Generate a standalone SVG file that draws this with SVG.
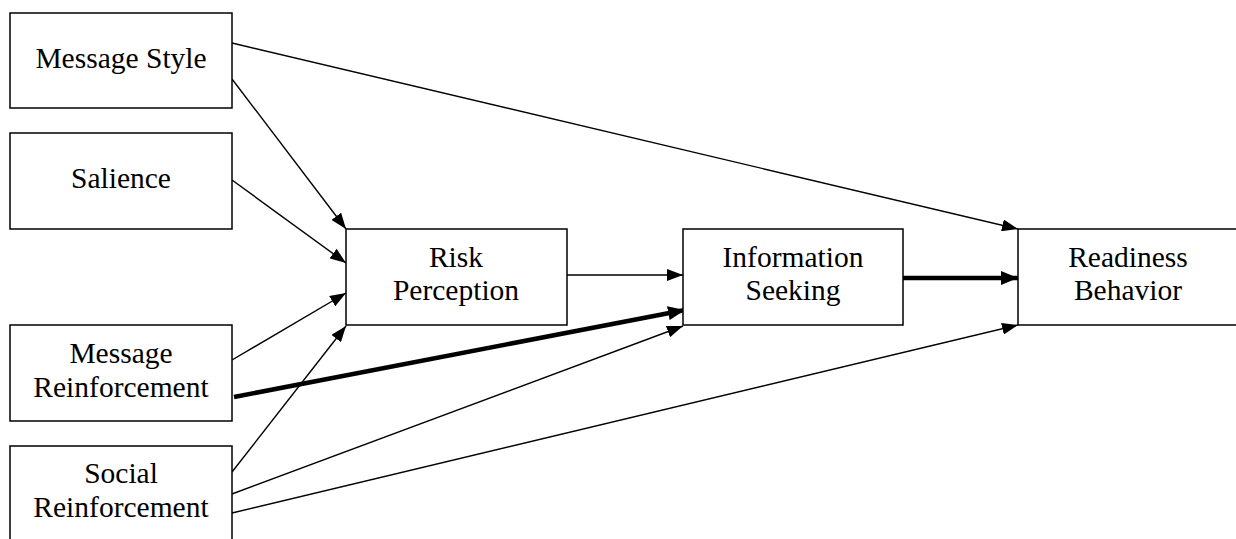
<svg xmlns="http://www.w3.org/2000/svg" width="1236" height="539" viewBox="0 0 1236 539">
  <style>
    .box { fill: #ffffff; stroke: #000000; stroke-width: 1.5; }
    .label { font-family: "Liberation Serif", "Times New Roman", serif; font-size: 29.5px; fill: #000000; text-anchor: middle; }
    .link { stroke: #000000; stroke-width: 1.4; fill: none; marker-end: url(#head); }
    .link-strong { stroke: #000000; stroke-width: 4.5; fill: none; marker-end: url(#head-strong); }
  </style>
  <defs>
    <marker id="head" viewBox="0 0 16 12" refX="16" refY="6" markerWidth="16" markerHeight="12" markerUnits="userSpaceOnUse" orient="auto">
      <path d="M0,0 L16,6 L0,12 Z" fill="#000000"/>
    </marker>
    <marker id="head-strong" viewBox="0 0 17 14" refX="17" refY="7" markerWidth="17" markerHeight="14" markerUnits="userSpaceOnUse" orient="auto">
      <path d="M0,0 L17,7 L0,14 Z" fill="#000000"/>
    </marker>
  </defs>

  <rect width="1236" height="539" fill="#ffffff"/>

  <g id="connectors">
    <line class="link" x1="232" y1="43" x2="1018" y2="229"/>
    <line class="link" x1="232" y1="79" x2="346" y2="229"/>
    <line class="link" x1="232" y1="180" x2="346" y2="263"/>
    <line class="link" x1="232" y1="360" x2="346" y2="293"/>
    <line class="link" x1="232" y1="472" x2="346" y2="326"/>
    <line class="link" x1="232" y1="494" x2="683" y2="326"/>
    <line class="link" x1="232" y1="513" x2="1018" y2="325"/>
    <line class="link" x1="567" y1="275" x2="683" y2="275"/>
    <line class="link-strong" x1="234" y1="397" x2="685" y2="310"/>
    <line class="link-strong" x1="903" y1="278" x2="1018" y2="278"/>
  </g>

  <g id="message-style">
    <rect class="box" x="10" y="13" width="222" height="95"/>
    <text class="label" x="121" y="68">Message Style</text>
  </g>

  <g id="salience">
    <rect class="box" x="10" y="133" width="222" height="96"/>
    <text class="label" x="121" y="188">Salience</text>
  </g>

  <g id="message-reinforcement">
    <rect class="box" x="10" y="325" width="222" height="96"/>
    <text class="label" x="121" y="363">Message</text>
    <text class="label" x="121" y="397">Reinforcement</text>
  </g>

  <g id="social-reinforcement">
    <rect class="box" x="10" y="446" width="222" height="100"/>
    <text class="label" x="121" y="483">Social</text>
    <text class="label" x="121" y="517">Reinforcement</text>
  </g>

  <g id="risk-perception">
    <rect class="box" x="346" y="229" width="221" height="96"/>
    <text class="label" x="456" y="267">Risk</text>
    <text class="label" x="456" y="300">Perception</text>
  </g>

  <g id="information-seeking">
    <rect class="box" x="683" y="229" width="220" height="96"/>
    <text class="label" x="793" y="267">Information</text>
    <text class="label" x="793" y="300">Seeking</text>
  </g>

  <g id="readiness-behavior">
    <rect class="box" x="1018" y="229" width="222" height="96"/>
    <text class="label" x="1128" y="267">Readiness</text>
    <text class="label" x="1128" y="300">Behavior</text>
  </g>
</svg>
